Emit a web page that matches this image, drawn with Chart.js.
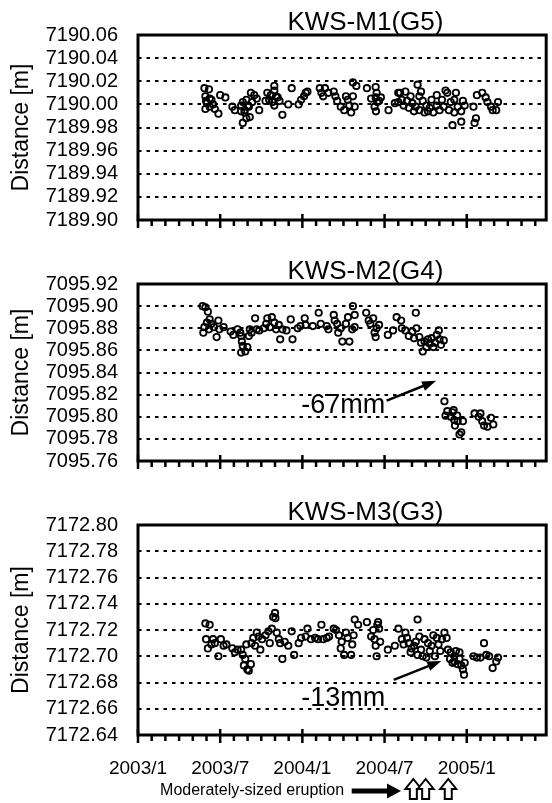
<!DOCTYPE html>
<html>
<head>
<meta charset="utf-8">
<script src="https://cdn.jsdelivr.net/npm/chart.js@4.4.0/dist/chart.umd.min.js"></script>
<style>
  html, body { margin: 0; padding: 0; background: #fff; overflow: hidden; }
  canvas { position: absolute; left: 0; }
</style>
</head>
<body>
<canvas id="c1" width="552" height="252" style="top:0px"></canvas>
<canvas id="c2" width="552" height="241" style="top:252px"></canvas>
<canvas id="c3" width="552" height="310" style="top:493px"></canvas>
<script>
// x values are months counted from 2003/1
const xTickMonths = [0, 6, 12, 18, 24];
const xTickLabels = ['2003/1', '2003/7', '2004/1', '2004/7', '2005/1'];
const xMax = 29.8;
const eruptionMonths = [20.1, 21.0, 22.65];

const m1Ticks = [7189.90, 7189.92, 7189.94, 7189.96, 7189.98, 7190.00, 7190.02, 7190.04, 7190.06];
const m2Ticks = [7095.76, 7095.78, 7095.80, 7095.82, 7095.84, 7095.86, 7095.88, 7095.90, 7095.92];
const m3Ticks = [7172.64, 7172.66, 7172.68, 7172.70, 7172.72, 7172.74, 7172.76, 7172.78, 7172.80];

// KWS-M1(G5)
const m1Month = [
  4.85, 5.18, 4.92, 5.23, 4.97, 5.36, 5.03, 5.48, 4.92, 5.23,
  5.61, 5.87, 6.00, 6.38, 6.89, 7.07, 7.53, 7.65, 7.91, 8.16,
  7.78, 8.04, 7.65, 8.24, 8.49, 8.67, 8.85, 8.34, 7.91, 8.09,
  7.78, 7.53, 9.31, 9.44, 9.57, 9.69, 9.82, 9.95, 9.95, 10.08,
  10.20, 10.33, 9.95, 10.54, 10.97, 11.22, 11.73, 11.91, 12.12, 12.24,
  12.37, 13.27, 13.65, 13.39, 13.52, 13.90, 14.29, 14.41, 14.54, 14.80,
  15.05, 15.18, 15.31, 15.43, 15.56, 15.69, 15.82, 15.69, 15.94, 16.71,
  17.35, 17.42, 17.35, 17.47, 17.60, 17.27, 17.37, 17.02, 17.73, 18.29,
  18.75, 19.13, 19.52, 19.26, 19.64, 20.03, 20.41, 20.54, 20.79, 21.05,
  21.17, 20.28, 19.00, 19.39, 19.77, 20.15, 20.54, 20.92, 21.30, 21.56,
  21.43, 21.81, 21.81, 22.02, 22.19, 22.45, 22.58, 22.32, 22.70, 22.83,
  23.09, 23.21, 23.34, 23.09, 23.60, 23.72, 23.85, 22.96, 23.60, 24.57,
  24.67, 24.49, 24.74, 25.13, 25.38, 25.51, 25.77, 26.15, 26.28, 25.89,
  19.00, 19.90, 20.66
];
const m1Dist = [
  7190.014, 7190.013, 7190.007, 7190.005, 7190.003, 7190.004, 7190.001, 7190.000, 7189.996, 7189.998,
  7189.996, 7189.992, 7190.008, 7190.006, 7189.998, 7189.995, 7189.994, 7189.984, 7189.988, 7189.989,
  7189.993, 7189.999, 7190.002, 7190.010, 7190.008, 7190.005, 7189.995, 7190.002, 7190.004, 7189.998,
  7189.995, 7189.999, 7190.003, 7190.010, 7190.004, 7190.008, 7190.002, 7190.016, 7190.012, 7190.007,
  7190.006, 7190.003, 7189.999, 7189.991, 7190.000, 7190.014, 7190.000, 7190.004, 7190.007, 7190.010,
  7190.011, 7190.014, 7190.014, 7190.010, 7190.007, 7190.010, 7190.011, 7190.007, 7190.003, 7189.998,
  7189.995, 7190.007, 7190.004, 7189.999, 7189.993, 7190.007, 7189.998, 7190.019, 7190.016, 7190.014,
  7190.015, 7190.010, 7190.006, 7190.002, 7190.003, 7189.998, 7189.994, 7190.005, 7190.006, 7189.995,
  7190.001, 7190.010, 7190.011, 7190.004, 7190.003, 7190.001, 7190.017, 7190.007, 7190.003, 7189.999,
  7189.994, 7189.998, 7190.002, 7189.999, 7189.997, 7189.994, 7189.995, 7189.993, 7189.997, 7189.993,
  7190.004, 7190.008, 7189.999, 7189.995, 7190.004, 7190.012, 7190.010, 7189.998, 7189.995, 7190.002,
  7190.004, 7190.010, 7189.998, 7189.993, 7189.994, 7190.003, 7189.999, 7189.982, 7189.985, 7189.984,
  7189.988, 7189.998, 7190.008, 7190.010, 7190.006, 7190.002, 7189.998, 7189.995, 7190.002, 7189.995,
  7190.010, 7190.007, 7190.011
];

// KWS-M2(G4)
const m2Month = [
  4.72, 4.92, 5.10, 5.23, 5.03, 4.85, 4.77, 5.18, 5.36, 5.54,
  5.74, 5.87, 5.94, 6.25, 6.76, 6.96, 7.27, 7.47, 7.53, 7.58,
  7.65, 7.83, 7.53, 7.98, 8.09, 8.16, 8.29, 8.55, 8.67, 8.85,
  9.18, 9.36, 9.44, 9.62, 9.77, 9.95, 10.08, 10.28, 10.38, 10.54,
  10.84, 11.15, 11.28, 11.66, 11.86, 12.17, 12.24, 12.76, 13.19, 13.34,
  13.78, 13.90, 14.29, 14.36, 14.54, 14.62, 14.80, 14.92, 15.18, 15.33,
  15.43, 15.69, 15.82, 15.64, 15.82, 16.66, 16.84, 16.96, 17.17, 17.27,
  17.35, 17.42, 17.60, 18.24, 18.62, 18.88, 19.21, 19.26, 19.52, 19.77,
  20.03, 20.28, 20.33, 20.54, 20.79, 20.92, 21.05, 21.30, 21.43, 21.56,
  21.81, 22.02, 22.12, 22.32, 21.96, 20.15, 20.66, 21.17, 21.68, 22.37,
  22.45, 22.58, 22.83, 23.04, 23.09, 23.14, 23.34, 23.47, 23.60, 23.72,
  24.57, 24.87, 25.00, 25.13, 25.26, 25.51, 25.77, 25.94, 22.96, 23.30
];
const m2Dist = [
  7095.900, 7095.899, 7095.895, 7095.888, 7095.885, 7095.881, 7095.876, 7095.879, 7095.884, 7095.881,
  7095.872, 7095.887, 7095.879, 7095.881, 7095.877, 7095.874, 7095.879, 7095.876, 7095.873, 7095.868,
  7095.864, 7095.859, 7095.858, 7095.863, 7095.873, 7095.879, 7095.876, 7095.889, 7095.879, 7095.878,
  7095.880, 7095.884, 7095.889, 7095.881, 7095.890, 7095.885, 7095.879, 7095.883, 7095.870, 7095.879,
  7095.878, 7095.888, 7095.870, 7095.880, 7095.882, 7095.889, 7095.883, 7095.882, 7095.894, 7095.884,
  7095.882, 7095.879, 7095.892, 7095.887, 7095.884, 7095.876, 7095.880, 7095.868, 7095.884, 7095.890,
  7095.868, 7095.900, 7095.892, 7095.879, 7095.881, 7095.894, 7095.887, 7095.884, 7095.889, 7095.876,
  7095.872, 7095.880, 7095.883, 7095.874, 7095.878, 7095.890, 7095.887, 7095.880, 7095.878, 7095.873,
  7095.877, 7095.894, 7095.880, 7095.872, 7095.859, 7095.868, 7095.863, 7095.866, 7095.871, 7095.863,
  7095.874, 7095.870, 7095.865, 7095.869, 7095.878, 7095.871, 7095.867, 7095.870, 7095.867, 7095.814,
  7095.801, 7095.805, 7095.800, 7095.806, 7095.797, 7095.792, 7095.796, 7095.784, 7095.786, 7095.796,
  7095.803, 7095.800, 7095.803, 7095.796, 7095.792, 7095.791, 7095.799, 7095.793, 7095.804, 7095.801
];

// KWS-M3(G3)
const m3Month = [
  4.92, 5.23, 4.97, 5.10, 5.36, 5.48, 5.61, 5.87, 6.05, 6.25,
  6.45, 6.89, 7.07, 7.27, 7.53, 7.65, 7.73, 7.83, 7.91, 7.98,
  8.09, 8.24, 8.29, 8.42, 8.55, 8.67, 8.80, 8.93, 9.06, 9.31,
  9.52, 9.62, 9.77, 9.87, 10.00, 10.03, 10.13, 10.28, 10.38, 10.54,
  10.71, 10.97, 11.22, 11.40, 11.73, 11.91, 12.24, 12.37, 12.63, 12.93,
  13.14, 13.39, 13.52, 13.78, 13.95, 14.29, 14.46, 14.67, 14.80, 14.87,
  15.05, 15.18, 15.31, 15.56, 15.64, 15.74, 15.82, 16.07, 16.71, 17.02,
  17.17, 17.27, 17.35, 17.42, 17.47, 17.53, 17.60, 17.68, 18.24, 18.75,
  19.01, 19.26, 19.39, 19.52, 19.64, 19.77, 19.97, 20.15, 20.28, 20.41,
  20.54, 20.66, 20.79, 20.92, 21.05, 21.17, 21.30, 21.56, 21.68, 21.81,
  22.07, 22.19, 22.37, 22.53, 22.63, 22.78, 22.83, 22.96, 23.09, 23.21,
  23.34, 23.47, 23.60, 23.72, 23.80, 23.85, 24.49, 24.74, 25.00, 25.26,
  25.43, 25.64, 25.89, 26.15, 26.28, 19.90, 20.41, 21.43, 21.94, 23.09,
  23.47
];
const m3Dist = [
  7172.725, 7172.724, 7172.713, 7172.706, 7172.709, 7172.713, 7172.710, 7172.700, 7172.713, 7172.708,
  7172.709, 7172.706, 7172.703, 7172.705, 7172.705, 7172.701, 7172.693, 7172.698, 7172.709, 7172.690,
  7172.689, 7172.694, 7172.710, 7172.714, 7172.708, 7172.718, 7172.715, 7172.705, 7172.713, 7172.716,
  7172.719, 7172.710, 7172.721, 7172.730, 7172.733, 7172.729, 7172.718, 7172.713, 7172.710, 7172.698,
  7172.711, 7172.708, 7172.719, 7172.701, 7172.710, 7172.714, 7172.715, 7172.721, 7172.713, 7172.714,
  7172.713, 7172.724, 7172.713, 7172.714, 7172.715, 7172.721, 7172.720, 7172.716, 7172.706, 7172.711,
  7172.701, 7172.718, 7172.714, 7172.701, 7172.709, 7172.716, 7172.728, 7172.724, 7172.726, 7172.715,
  7172.720, 7172.713, 7172.708, 7172.700, 7172.724, 7172.726, 7172.721, 7172.711, 7172.705, 7172.708,
  7172.721, 7172.713, 7172.709, 7172.718, 7172.714, 7172.710, 7172.706, 7172.708, 7172.711, 7172.728,
  7172.715, 7172.705, 7172.700, 7172.713, 7172.699, 7172.710, 7172.704, 7172.716, 7172.700, 7172.714,
  7172.704, 7172.713, 7172.718, 7172.714, 7172.705, 7172.698, 7172.703, 7172.695, 7172.700, 7172.704,
  7172.694, 7172.698, 7172.693, 7172.690, 7172.686, 7172.695, 7172.700, 7172.699, 7172.699, 7172.710,
  7172.701, 7172.700, 7172.691, 7172.696, 7172.699, 7172.703, 7172.701, 7172.708, 7172.709, 7172.696,
  7172.703
];

const FONT = '"Liberation Sans", Arial, Helvetica, sans-serif';
const titleMonth = 16.6;

function arrowLine(ctx, x1, y1, x2, y2, head, half) {
  const a = Math.atan2(y2 - y1, x2 - x1);
  const c = Math.cos(a), s = Math.sin(a);
  ctx.beginPath();
  ctx.moveTo(x1, y1);
  ctx.lineTo(x2 - c * head * 0.8, y2 - s * head * 0.8);
  ctx.stroke();
  ctx.beginPath();
  ctx.moveTo(x2, y2);
  ctx.lineTo(x2 - c * head + s * half, y2 - s * head - c * half);
  ctx.lineTo(x2 - c * head - s * half, y2 - s * head + c * half);
  ctx.closePath();
  ctx.fill();
}

const deco = {
  id: 'deco',
  afterDatasetsDraw(chart, args, o) {
    const { ctx, chartArea: a, scales: { x, y } } = chart;
    ctx.save();
    ctx.strokeStyle = '#000';
    ctx.fillStyle = '#000';

    // frame
    ctx.lineWidth = 3;
    ctx.strokeRect(a.left, a.top, a.right - a.left, a.bottom - a.top);

    // monthly ticks, longer every six months
    ctx.lineWidth = 2.5;
    for (let m = 0; m <= xMax; m++) {
      const px = x.getPixelForValue(m);
      const major = m % 6 === 0;
      ctx.beginPath();
      ctx.moveTo(px, a.bottom - (major ? 6 : 0));
      ctx.lineTo(px, a.bottom + (major ? 8 : 6));
      ctx.stroke();
    }

    // panel title
    ctx.font = '26px ' + FONT;
    ctx.textAlign = 'center';
    ctx.textBaseline = 'alphabetic';
    ctx.fillText(o.title, x.getPixelForValue(titleMonth), a.top - 5);

    // step annotation
    if (o.note) {
      const n = o.note;
      ctx.font = '27px ' + FONT;
      ctx.textBaseline = 'middle';
      ctx.fillText(n.text, x.getPixelForValue(n.tx), y.getPixelForValue(n.ty));
      ctx.lineWidth = 2.5;
      arrowLine(ctx, x.getPixelForValue(n.ax1), y.getPixelForValue(n.ay1),
        x.getPixelForValue(n.ax2), y.getPixelForValue(n.ay2), 14, 5);
    }

    // eruption row
    if (o.eruptions) {
      const base = a.bottom + 56;
      ctx.font = '16px ' + FONT;
      ctx.textAlign = 'right';
      ctx.textBaseline = 'middle';
      ctx.fillText('Moderately-sized eruption', x.getPixelForValue(15.05), base);
      const s = x.getPixelForValue(15.6), e = x.getPixelForValue(19.2);
      ctx.fillRect(s, base - 2.5, e - s - 12, 5);
      ctx.beginPath();
      ctx.moveTo(e, base);
      ctx.lineTo(e - 14, base - 7.5);
      ctx.lineTo(e - 14, base + 7.5);
      ctx.closePath();
      ctx.fill();
      ctx.lineWidth = 2;
      ctx.fillStyle = '#fff';
      eruptionMonths.forEach(m => {
        const cx = x.getPixelForValue(m);
        const top = a.bottom + 44, bot = a.bottom + 64;
        ctx.beginPath();
        ctx.moveTo(cx, top);
        ctx.lineTo(cx + 8, top + 10);
        ctx.lineTo(cx + 3.5, top + 10);
        ctx.lineTo(cx + 3.5, bot);
        ctx.lineTo(cx - 3.5, bot);
        ctx.lineTo(cx - 3.5, top + 10);
        ctx.lineTo(cx - 8, top + 10);
        ctx.closePath();
        ctx.fill();
        ctx.stroke();
      });
    }
    ctx.restore();
  }
};

function makePanel(id, months, dists, yTicks, opts) {
  const last = yTicks.length - 1;
  new Chart(document.getElementById(id), {
    type: 'scatter',
    data: {
      datasets: [{
        data: months.map((m, i) => ({ x: m, y: dists[i] })),
        pointStyle: 'circle',
        pointRadius: 3.2,
        borderWidth: 1.8,
        borderColor: '#000',
        backgroundColor: 'rgba(0,0,0,0)'
      }]
    },
    options: {
      responsive: false,
      animation: false,
      events: [],
      layout: { padding: { top: opts.top, right: 1, left: 0, bottom: 0 } },
      plugins: {
        legend: { display: false },
        tooltip: { enabled: false },
        deco: { title: opts.title, note: opts.note, eruptions: opts.eruptions }
      },
      scales: {
        x: {
          type: 'linear',
          min: 0,
          max: xMax,
          grid: { display: false },
          border: { display: false },
          afterBuildTicks: s => { s.ticks = xTickMonths.map(v => ({ value: v })); },
          afterFit: s => { s.height = opts.xHeight; },
          ticks: {
            display: !!opts.eruptions,
            autoSkip: false,
            color: '#000',
            padding: 14,
            maxRotation: 0,
            font: { family: FONT, size: 19 },
            callback: v => xTickLabels[xTickMonths.indexOf(v)]
          }
        },
        y: {
          min: yTicks[0],
          max: yTicks[last],
          afterBuildTicks: s => { s.ticks = yTicks.map(v => ({ value: v })); },
          afterFit: s => { s.width = 138; },
          grid: {
            drawTicks: false,
            lineWidth: 2,
            color: c => (c.index === 0 || c.index === last) ? 'rgba(0,0,0,0)' : '#000'
          },
          border: { display: false, dash: [3.5, 5] },
          ticks: {
            autoSkip: false,
            color: '#000',
            padding: 20,
            font: { family: FONT, size: 20 },
            callback: v => v.toFixed(2)
          },
          title: {
            display: true,
            text: 'Distance [m]',
            color: '#000',
            font: { family: FONT, size: 23 },
            padding: { top: 8, bottom: 0 }
          }
        }
      }
    },
    plugins: [deco]
  });
}

makePanel('c1', m1Month, m1Dist, m1Ticks, { top: 35, xHeight: 12, title: 'KWS-M1(G5)' });
makePanel('c2', m2Month, m2Dist, m2Ticks, {
  top: 26, xHeight: 10, title: 'KWS-M2(G4)',
  note: { text: '-67mm', tx: 14.98, ty: 7095.810, ax1: 18.15, ay1: 7095.8145, ax2: 21.76, ay2: 7095.8325 }
});
makePanel('c3', m3Month, m3Dist, m3Ticks, {
  top: 27, xHeight: 68, title: 'KWS-M3(G3)', eruptions: true,
  note: { text: '-13mm', tx: 14.98, ty: 7172.668, ax1: 18.67, ay1: 7172.682, ax2: 22.14, ay2: 7172.6964 }
});
</script>
</body>
</html>
